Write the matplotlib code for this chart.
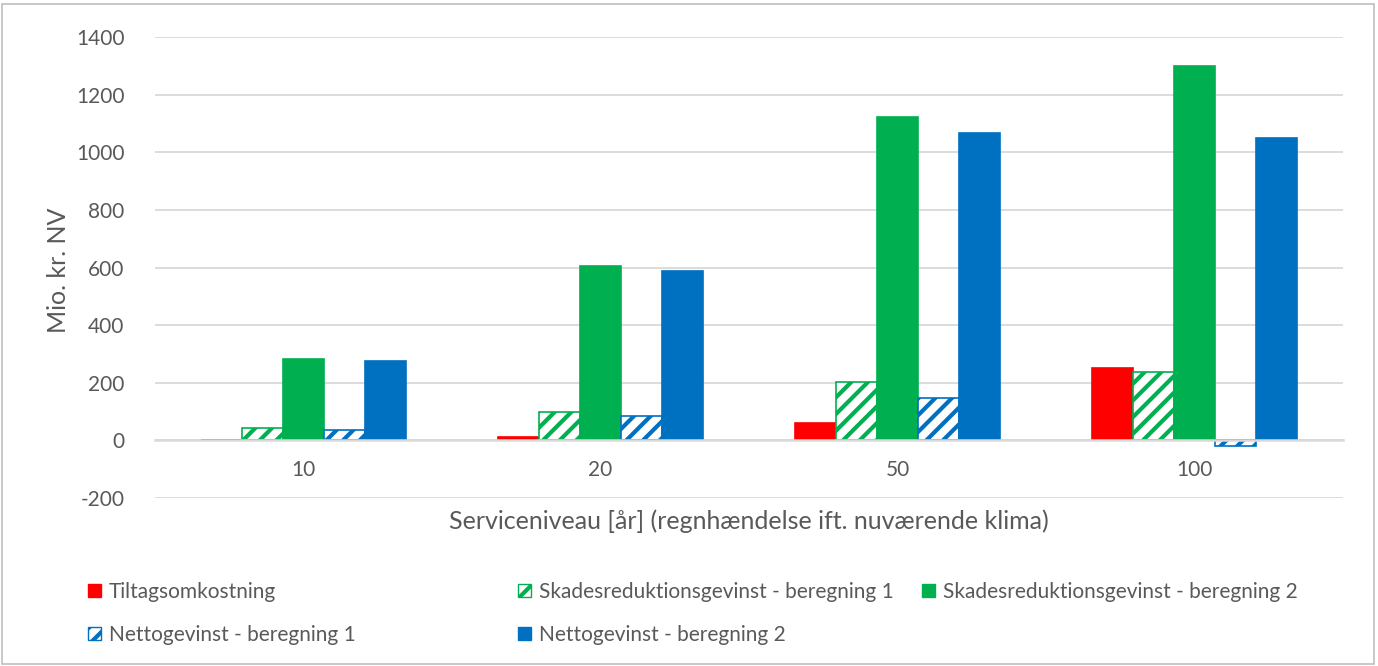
import numpy as np
import matplotlib
matplotlib.use("Agg")
import matplotlib.pyplot as plt
from matplotlib.patches import Patch, Rectangle

# ── data ─────────────────────────────────────────────────────────────────────
categories = ["10", "20", "50", "100"]
tiltag     = [0, 10, 59, 250]
skades_1   = [42, 100, 201, 236]
skades_2   = [281, 604, 1121, 1299]
netto_1    = [35, 83, 146, -21]
netto_2    = [274, 587, 1066, 1049]

series_labels = [
    "Tiltagsomkostning",
    "Skadesreduktionsgevinst - beregning 1",
    "Skadesreduktionsgevinst - beregning 2",
    "Nettogevinst - beregning 1",
    "Nettogevinst - beregning 2",
]

# ── style ────────────────────────────────────────────────────────────────────
RED   = "#FF0000"
GREEN = "#00B050"
BLUE  = "#0070C0"
TEXT  = "#595959"
GRID  = "#D9D9D9"

plt.rcParams["font.family"] = ["Lato", "DejaVu Sans"]
plt.rcParams["hatch.linewidth"] = 3.0
plt.rcParams["axes.unicode_minus"] = False

styles = [
    dict(color=RED, edgecolor=RED),
    dict(facecolor="white", edgecolor=GREEN, hatch="//"),
    dict(color=GREEN, edgecolor=GREEN),
    dict(facecolor="white", edgecolor=BLUE, hatch="//"),
    dict(color=BLUE, edgecolor=BLUE),
]
values = [tiltag, skades_1, skades_2, netto_1, netto_2]

fig = plt.figure(figsize=(13.78, 6.66), dpi=100)
ax = fig.add_axes([155 / 1378, 1 - 498 / 666, 1188 / 1378, 461 / 666])

x = np.arange(len(categories))
w = 0.138
for i, (vals, st) in enumerate(zip(values, styles)):
    ax.bar(x + (i - 2) * w, vals, width=w, linewidth=1.2, label=series_labels[i], **st)

ax.set_xlim(-0.5, len(categories) - 0.5)
ax.set_ylim(-200, 1400)
ax.set_yticks(np.arange(-200, 1401, 200))
ax.yaxis.grid(True, color=GRID, lw=1.3)
ax.set_axisbelow(True)
for s in ["top", "right", "left"]:
    ax.spines[s].set_visible(False)
ax.spines["bottom"].set_position(("data", 0))
ax.spines["bottom"].set_color(GRID)
ax.spines["bottom"].set_linewidth(1.8)
ax.set_xticks(x)
ax.set_xticklabels(categories)
ax.tick_params(axis="x", length=0, pad=14, labelsize=15, labelcolor=TEXT)
ax.tick_params(axis="y", length=0, pad=22, labelsize=15, labelcolor=TEXT)

fig.text(58 / 1378, 1 - 270 / 666, "Mio. kr. NV", rotation=90,
         ha="center", va="center", fontsize=18, color=TEXT)
fig.text(749 / 1378, 1 - 521 / 666, "Serviceniveau [år] (regnhændelse ift. nuværende klima)",
         ha="center", va="center", fontsize=18, color=TEXT)

# ── legend, laid out in three fixed columns like the original ────────────────
def handle(st):
    return Patch(linewidth=1.0, **st)

cols = [([0, 3], 88), ([1, 4], 518), ([2], 922)]
for idx, xpix in cols:
    fig.legend([handle(styles[i]) for i in idx], [series_labels[i] for i in idx],
               loc="upper left", bbox_to_anchor=(xpix / 1378, 1 - 582 / 666),
               frameon=False, fontsize=15, labelcolor=TEXT,
               handlelength=0.6, handleheight=0.6, handletextpad=0.4,
               labelspacing=1.1, borderpad=0, borderaxespad=0)

fig.patches.append(Rectangle((2 / 1378, 2 / 666), 1372 / 1378, 660 / 666,
                             transform=fig.transFigure, fill=False,
                             edgecolor="#BFBFBF", lw=1.2))

fig.savefig("out.png", dpi=100)
